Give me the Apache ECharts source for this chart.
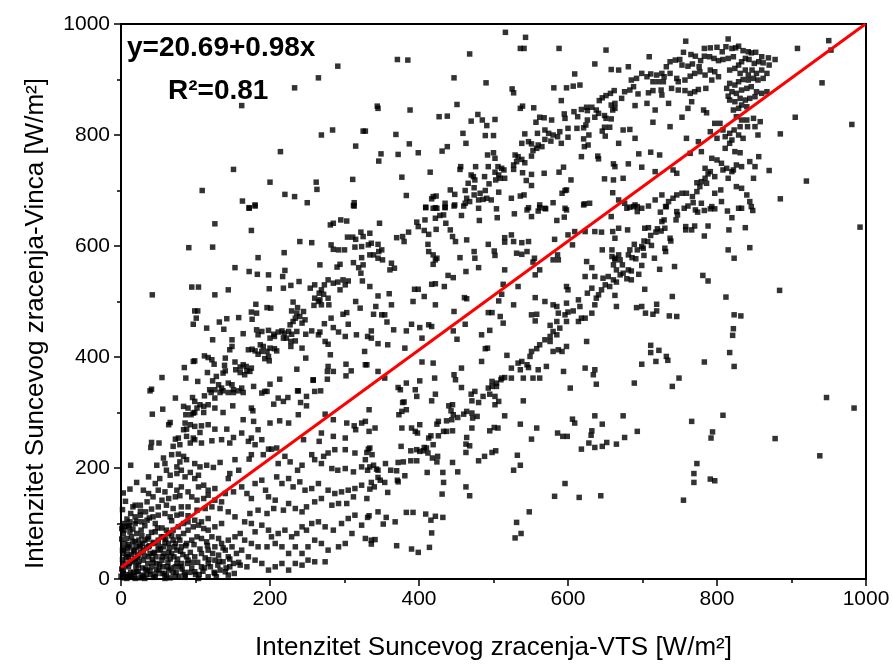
<!DOCTYPE html>
<html><head><meta charset="utf-8">
<script src="https://cdn.jsdelivr.net/npm/echarts@6/dist/echarts.min.js"></script>
<style>html,body{margin:0;padding:0;background:#fff}#c{width:893px;height:671px}</style>
</head><body><div id="c"></div>
<script>
// Scatter points [VTS, Vinca] in W/m2, read region by region from the reference
const regionTopLeft = [[291,924],[265,903],[233,885],[162,853],[284,809],[269,800],[325,807],[315,780],[214,770],[151,738],[200,715],[262,715],[263,702],[311,720],[109,700],[220,693],[233,689],[250,678],[163,681],[172,669],[180,674],[313,678],[312,673]];
const regionTopMid = [[516,985],[543,976],[536,956],[541,956],[588,956],[651,953],[371,936],[385,935],[468,946],[636,928],[658,918],[609,910],[447,903],[490,894],[525,883],[527,876],[581,885],[598,885],[607,888],[616,890],[662,880],[657,875],[651,871],[646,867],[642,862],[591,862],[344,852],[345,848],[388,845],[451,855],[536,848],[539,852],[554,849],[658,854],[660,845],[618,846],[625,850],[632,850],[638,845],[641,839],[636,832],[626,844],[608,842],[595,838],[596,830],[613,833],[649,835],[651,830],[658,829],[427,833],[438,834],[479,837],[470,825],[485,827],[491,817],[502,828],[562,832],[568,831],[557,823],[578,827],[328,807],[369,801],[459,803],[489,799],[500,799],[542,802],[559,803],[569,809],[574,803],[580,800],[586,797],[589,806],[600,812],[612,812],[621,813],[624,818],[626,827],[646,807],[649,814],[656,814],[650,798],[387,784],[463,785],[538,785],[547,788],[551,784],[560,782],[569,792],[565,779],[558,776],[553,772],[577,789],[591,785],[600,796],[621,793],[628,800],[622,779],[627,782],[349,766],[346,753],[372,765],[399,768],[431,771],[438,779],[492,764],[500,768],[502,758],[529,764],[533,761],[538,756],[531,752],[527,746],[542,750],[551,762],[618,761],[640,762],[641,757],[661,748],[377,724],[415,733],[456,743],[455,738],[476,743],[493,743],[506,743],[511,740],[514,737],[470,728],[473,725],[475,719],[466,713],[488,725],[494,712],[502,733],[503,719],[509,722],[515,722],[507,728],[527,738],[539,732],[551,729],[568,731],[544,718],[551,709],[588,733],[594,742],[604,719],[596,700],[592,695],[649,721],[661,719],[660,696],[383,691],[442,701],[448,693],[462,700],[464,686],[474,705],[474,692],[482,695],[489,700],[419,689],[423,690],[417,685],[409,670],[422,669],[435,677],[435,670],[448,674],[462,677],[468,680],[480,683],[486,684],[491,686],[497,683],[507,697],[524,686],[536,690],[541,692],[547,669],[562,674],[569,668],[580,678],[596,668],[598,701],[622,676],[629,677]];
const regionTopRight = [[815,973],[758,969],[908,956],[950,970],[953,953],[709,941],[755,949],[765,945],[771,942],[783,956],[791,957],[800,958],[807,950],[812,959],[820,956],[825,957],[829,960],[835,952],[842,950],[846,948],[852,949],[860,941],[869,939],[878,936],[870,926],[862,930],[856,932],[850,929],[843,936],[838,938],[833,932],[829,926],[822,941],[815,938],[808,936],[802,934],[796,938],[790,941],[783,942],[778,934],[776,923],[767,928],[761,924],[753,926],[750,936],[744,935],[737,932],[732,923],[726,911],[719,908],[711,910],[706,905],[699,911],[692,902],[685,899],[681,923],[668,917],[688,887],[683,881],[676,878],[672,866],[663,857],[714,896],[721,896],[728,896],[729,905],[737,911],[746,902],[748,896],[757,899],[764,906],[770,911],[777,914],[784,908],[791,917],[797,914],[802,905],[793,899],[785,884],[775,882],[770,878],[764,875],[757,880],[748,881],[739,884],[725,881],[714,880],[708,876],[694,874],[726,872],[817,917],[824,920],[831,911],[838,917],[842,908],[847,917],[853,911],[860,917],[867,911],[862,902],[855,899],[849,902],[842,899],[835,900],[829,896],[824,890],[817,893],[813,884],[820,878],[826,875],[833,881],[840,884],[846,887],[853,878],[860,875],[867,878],[851,869],[844,866],[838,863],[831,866],[824,860],[817,863],[815,870],[833,854],[840,851],[829,848],[822,845],[826,833],[833,827],[840,827],[849,830],[858,824],[851,815],[841,815],[831,815],[823,809],[817,803],[811,797],[820,791],[829,800],[835,794],[808,809],[804,821],[800,794],[811,776],[817,785],[824,770],[831,768],[793,758],[800,755],[806,749],[813,740],[822,737],[826,746],[833,743],[844,752],[851,743],[856,761],[905,832],[885,802],[981,819],[941,894],[920,717],[885,685],[855,800],[870,736],[849,722],[840,692],[833,704],[826,707],[815,722],[808,737],[820,734],[797,725],[791,734],[788,730],[784,722],[779,716],[786,713],[777,707],[773,698],[767,689],[759,695],[753,695],[746,692],[741,686],[735,680],[732,671],[726,692],[717,683],[708,672],[699,668],[690,674],[683,670],[676,677],[668,683],[773,714],[784,740],[797,695],[805,701],[806,680],[793,671],[779,677],[768,678],[846,671],[833,668],[844,680],[690,794],[674,809],[683,810],[668,785],[695,766],[711,769],[723,764],[681,748],[699,742],[674,722],[663,743],[717,734],[746,731],[741,737],[759,794],[737,815],[714,823],[753,832],[706,857],[690,853],[717,845],[735,857],[663,848],[761,848],[766,860],[782,845],[786,840],[797,821],[791,806],[775,788],[764,767],[779,770]];
const regionMidLeft = [[172,668],[180,672],[313,672],[126,640],[175,628],[91,597],[123,598],[42,512],[95,526],[104,526],[126,512],[144,521],[153,561],[172,554],[183,549],[198,548],[184,579],[219,588],[220,556],[217,545],[218,524],[228,529],[239,536],[199,523],[240,608],[256,606],[281,638],[285,641],[295,647],[303,645],[282,602],[285,594],[292,593],[300,593],[304,616],[311,616],[315,612],[314,598],[322,625],[325,617],[323,599],[267,566],[290,562],[294,567],[312,570],[323,579],[319,561],[325,566],[322,551],[324,537],[278,539],[285,533],[291,535],[298,539],[301,530],[294,521],[305,537],[254,524],[260,530],[269,521],[273,530],[266,515],[272,513],[278,506],[260,506],[265,500],[269,494],[279,494],[259,493],[267,503],[231,499],[237,489],[229,483],[236,479],[234,470],[240,473],[245,482],[247,467],[243,461],[231,464],[227,458],[315,500],[321,488],[298,477],[303,480],[305,459],[316,440],[301,437],[292,445],[285,453],[282,470],[273,460],[265,440],[256,447],[248,441],[267,445],[274,428],[278,423],[281,404],[278,383],[277,374],[285,374],[302,387],[309,375],[302,366],[277,360],[258,359],[248,398],[243,416],[236,378],[328,386],[327,410],[181,495],[196,489],[201,488],[175,481],[182,479],[176,468],[158,471],[142,469],[132,463],[138,450],[115,452],[99,483],[103,483],[101,470],[97,459],[123,431],[149,431],[146,413],[164,442],[182,449],[189,446],[184,440],[198,448],[205,441],[211,445],[216,447],[219,443],[225,446],[229,441],[236,446],[222,434],[228,428],[228,419],[234,429],[200,434],[206,437],[218,434],[171,413],[176,414],[187,422],[191,419],[189,410],[184,405],[196,410],[200,416],[206,415],[209,411],[198,401],[193,397],[199,393],[180,411],[149,419],[140,398],[153,391],[160,382],[164,386],[168,383],[169,375],[173,374],[175,380],[166,368],[160,372],[154,377],[139,385],[140,375],[137,371],[112,402],[117,399],[122,395],[125,387],[99,393],[97,392],[85,381],[87,362],[55,363],[41,342],[103,356],[116,372],[123,357],[128,365],[131,350],[119,341],[126,341],[135,344],[144,353],[149,350],[151,341],[162,344],[178,347],[196,338],[200,351],[213,360],[237,339],[258,358],[268,339]];
const regionMidCenter = [[409,669],[419,668],[424,668],[435,669],[447,672],[460,672],[480,668],[504,667],[528,658],[545,665],[551,653],[560,663],[570,667],[598,665],[595,652],[585,646],[562,669],[621,674],[347,641],[397,643],[399,635],[408,647],[407,628],[413,621],[423,630],[422,650],[428,655],[433,656],[436,641],[442,629],[445,617],[449,608],[464,611],[457,655],[481,646],[505,651],[515,615],[524,620],[527,608],[538,606],[547,608],[545,590],[538,585],[531,587],[555,578],[556,548],[553,571],[562,557],[586,584],[580,575],[587,575],[582,612],[600,620],[606,602],[609,626],[623,626],[636,626],[645,625],[658,653],[660,626],[646,593],[659,581],[661,566],[334,623],[332,602],[336,605],[345,603],[334,584],[339,584],[346,590],[350,593],[345,578],[351,575],[363,569],[361,557],[367,560],[370,615],[378,617],[386,625],[380,608],[412,603],[413,590],[419,584],[422,575],[419,567],[424,578],[455,579],[474,590],[475,578],[480,561],[493,603],[501,591],[502,583],[515,607],[463,554],[439,547],[446,543],[434,527],[417,531],[422,532],[394,522],[399,522],[407,509],[334,527],[345,510],[360,514],[342,491],[363,494],[392,500],[422,494],[461,507],[464,505],[515,557],[513,531],[511,513],[533,527],[507,501],[527,494],[556,507],[493,480],[498,480],[509,473],[513,461],[447,482],[462,459],[446,447],[451,432],[484,440],[495,448],[339,477],[350,476],[354,476],[357,463],[390,459],[401,453],[413,458],[383,447],[366,449],[336,447],[331,437],[336,434],[345,424],[358,422],[381,416],[404,434],[417,455],[569,500],[580,494],[585,491],[587,479],[596,476],[600,481],[607,483],[598,497],[598,527],[600,521],[614,503],[616,491],[618,470],[623,470],[632,479],[636,494],[638,506],[626,515],[632,524],[641,512],[645,521],[650,530],[656,527],[661,539],[654,545],[647,542],[623,545],[632,561],[625,572],[636,545],[659,593],[663,578],[551,476],[558,477],[556,465],[576,457],[580,446],[576,437],[569,431],[576,428],[562,422],[558,415],[551,410],[549,401],[538,392],[533,389],[545,386],[536,377],[524,380],[515,363],[510,359],[504,353],[498,356],[493,344],[498,347],[504,347],[511,362],[524,362],[540,362],[553,362],[562,362],[547,381],[560,377],[571,383],[594,374],[598,464],[585,464],[589,452],[585,440],[598,419],[587,413],[580,410],[592,410],[614,464],[625,428],[623,380],[636,377],[634,368],[638,351],[603,344],[330,386],[345,374],[354,362],[372,345],[383,353],[401,357],[421,362],[447,368],[449,359],[457,345],[475,338],[404,391],[419,389],[375,341],[395,341],[489,415],[492,416],[518,403],[484,392],[457,380]];
const regionMidRight = [[679,668],[688,671],[693,662],[693,671],[724,661],[731,671],[746,662],[747,656],[745,647],[756,668],[761,672],[771,665],[774,661],[783,664],[791,667],[797,667],[814,663],[820,651],[829,668],[848,664],[992,634],[668,632],[680,629],[703,632],[708,633],[726,644],[729,647],[720,631],[725,627],[730,632],[718,625],[711,619],[758,635],[758,629],[766,629],[770,636],[788,636],[783,618],[816,629],[838,633],[663,614],[689,603],[702,609],[707,608],[712,601],[699,599],[693,593],[683,593],[681,584],[668,584],[663,575],[670,575],[686,579],[691,577],[701,596],[702,583],[716,578],[730,596],[731,590],[738,609],[737,614],[815,593],[823,578],[844,597],[673,566],[665,557],[670,548],[674,551],[681,557],[685,555],[679,541],[685,539],[695,549],[699,565],[665,535],[723,558],[743,563],[781,547],[788,537],[703,522],[740,509],[663,511],[665,491],[692,489],[699,491],[704,479],[714,477],[719,495],[719,483],[736,474],[746,473],[812,508],[823,476],[832,474],[822,451],[821,439],[817,408],[823,383],[783,391],[884,520],[711,421],[711,408],[722,412],[732,401],[734,394],[718,392],[699,387],[689,353],[740,347],[749,362]];
const regionLowLeft = [[39,339],[73,326],[96,327],[99,320],[112,330],[121,336],[126,326],[133,336],[137,339],[144,336],[151,336],[158,339],[164,336],[189,335],[193,338],[211,326],[224,327],[238,339],[249,329],[249,312],[241,318],[260,338],[205,315],[218,320],[175,308],[177,303],[150,312],[137,300],[126,308],[117,314],[111,311],[106,314],[102,308],[97,299],[90,308],[84,311],[87,296],[94,296],[99,300],[111,300],[56,306],[42,297],[66,282],[64,278],[86,281],[93,278],[99,275],[108,276],[117,278],[84,269],[88,270],[106,264],[126,270],[142,270],[162,263],[164,287],[178,284],[184,269],[200,281],[213,285],[225,281],[238,296],[269,263],[274,297],[285,287],[303,281],[313,276],[323,281],[315,269],[301,254],[285,257],[266,248],[245,251],[41,246],[51,245],[40,237],[73,252],[77,254],[88,257],[97,254],[70,239],[79,242],[93,245],[99,251],[108,245],[122,249],[135,251],[146,245],[151,255],[171,248],[175,254],[180,242],[189,251],[198,234],[202,234],[209,236],[191,224],[175,224],[172,216],[13,205],[12,162],[21,174],[37,184],[46,172],[52,181],[59,208],[48,205],[57,218],[68,224],[77,225],[84,221],[79,211],[88,215],[75,202],[61,196],[66,187],[75,190],[81,196],[86,184],[93,192],[99,181],[104,187],[106,202],[99,208],[115,205],[124,201],[133,210],[146,190],[144,181],[158,196],[153,215],[104,166],[111,169],[117,160],[126,163],[81,166],[75,160],[66,169],[59,157],[50,160],[43,148],[35,139],[26,133],[19,133],[30,160],[37,154],[55,142],[64,145],[73,148],[79,150],[90,157],[95,148],[102,142],[111,145],[117,151],[126,142],[135,139],[140,154],[151,157],[162,166],[169,154],[175,145],[180,172],[189,178],[194,160],[198,148],[184,124],[173,118],[166,103],[153,112],[144,121],[133,127],[122,130],[113,127],[102,124],[90,130],[81,130],[70,127],[61,133],[50,130],[41,126],[33,121],[26,115],[19,112],[12,103],[5,100],[1,91],[10,94],[19,100],[28,103],[35,106],[43,112],[50,115],[59,118],[66,112],[75,115],[81,117],[90,114],[99,106],[108,103],[117,109],[211,208],[220,221],[227,211],[237,196],[243,205],[256,224],[260,215],[269,208],[272,221],[278,227],[283,199],[291,196],[301,199],[312,193],[323,202],[314,227],[301,233],[287,233],[209,184],[216,172],[225,181],[231,166],[240,175],[247,160],[256,163],[265,172],[278,160],[287,154],[296,157],[305,160],[314,163],[323,169],[312,148],[303,136],[292,136],[283,133],[269,145],[260,139],[249,130],[243,121],[234,127],[225,136],[218,124],[207,142],[205,127],[196,118],[175,100],[180,85],[189,97],[198,88],[202,76],[211,82],[220,88],[229,76],[236,82],[243,94],[249,88],[256,100],[265,103],[274,94],[285,88],[296,100],[305,109],[314,115],[323,97],[310,82],[301,64],[292,58],[278,52],[269,64],[260,70],[251,58],[243,46],[234,58],[225,46],[216,58],[207,64],[196,58],[184,58],[175,64],[166,70],[162,52],[171,40],[180,34],[189,28],[198,16],[207,22],[216,28],[225,16],[234,28],[243,25],[251,34],[260,31],[274,31],[169,22],[160,25],[151,28],[144,40],[140,13],[144,7],[146,22],[137,31]];
const regionCorner = [[3,82],[8,73],[14,76],[21,82],[5,64],[12,58],[19,67],[26,61],[32,70],[37,76],[3,46],[10,40],[17,49],[23,43],[30,52],[37,58],[43,64],[50,70],[57,76],[64,82],[70,88],[77,94],[84,100],[90,103],[3,28],[10,22],[17,31],[23,25],[30,34],[37,40],[43,46],[50,52],[57,58],[64,64],[70,70],[77,76],[84,82],[90,88],[97,94],[104,97],[111,91],[117,88],[126,94],[135,100],[3,10],[12,7],[21,13],[28,7],[35,16],[41,22],[48,28],[55,34],[61,40],[68,46],[75,52],[81,58],[88,64],[95,70],[102,76],[108,73],[115,67],[122,76],[131,73],[8,1],[19,1],[32,1],[46,4],[55,10],[64,16],[73,22],[81,28],[90,34],[99,40],[108,46],[117,52],[126,58],[135,64],[144,70],[153,76],[160,82],[59,1],[73,4],[86,7],[99,13],[108,22],[117,28],[126,34],[131,43],[140,52],[149,58],[155,46],[104,1],[117,4],[126,10],[133,16],[0,5],[3,15],[6,25],[2,35],[8,45],[4,55],[10,62],[1,72],[12,85],[5,95],[14,3],[17,12],[20,22],[15,33],[22,40],[18,52],[25,58],[24,70],[28,78],[8,108],[13,118],[2,125],[30,5],[33,18],[36,28],[40,8],[42,35],[45,48],[48,18],[52,26],[55,40],[50,60],[58,10],[62,22],[66,36],[70,12],[75,28],[78,5],[82,18],[88,40],[92,12],[96,30],[105,8],[112,20],[118,35],[125,12],[130,25],[6,140],[3,155],[16,130],[26,122],[38,110],[46,100],[55,92],[68,105],[10,4],[26,2],[44,3],[66,2],[86,3],[4,2],[38,60],[46,85],[60,72],[72,58],[80,50],[64,48]];
const regionCornerDense = [[1,18],[2,52],[4,88],[6,8],[7,38],[9,55],[11,28],[11,96],[13,12],[14,44],[16,68],[16,90],[18,6],[19,36],[20,58],[21,104],[23,14],[24,32],[26,48],[27,88],[29,20],[29,64],[31,42],[32,96],[34,8],[34,56],[36,72],[39,14],[39,46],[41,84],[43,30],[44,66],[47,10],[47,40],[49,92],[51,16],[53,54],[54,76],[56,22],[57,46],[59,66],[61,6],[61,88],[63,30],[65,56],[67,20],[68,78],[71,40],[73,64],[74,12],[76,36],[79,70],[80,22],[83,44],[85,12],[87,60],[89,28],[93,48],[95,20],[98,62],[100,8],[103,30],[106,54],[110,14],[113,38],[116,60],[120,22],[123,46],[128,4],[132,32],[137,56],[141,20],[146,36],[152,10],[158,30]];
const regionLowCenter = [[333,305],[328,284],[333,266],[341,272],[334,236],[337,224],[332,234],[330,228],[328,215],[334,202],[331,196],[339,205],[343,198],[345,196],[336,174],[348,178],[354,174],[345,183],[340,166],[334,162],[330,145],[358,156],[355,208],[362,196],[370,195],[372,210],[379,211],[376,239],[372,175],[371,178],[381,186],[377,272],[390,272],[395,266],[398,263],[401,278],[389,231],[397,233],[401,230],[407,237],[406,231],[410,236],[412,227],[418,218],[424,211],[425,221],[419,242],[413,254],[416,258],[397,213],[389,213],[426,258],[433,266],[437,266],[445,267],[424,279],[426,284],[437,285],[444,287],[446,296],[443,303],[452,291],[445,314],[440,312],[460,297],[464,302],[471,299],[472,290],[478,293],[471,272],[464,255],[463,243],[468,240],[463,228],[480,213],[488,221],[498,228],[503,231],[495,267],[501,273],[506,272],[515,294],[502,314],[507,320],[502,329],[495,333],[486,329],[480,318],[471,321],[470,333],[422,333],[397,329],[417,321],[378,318],[380,319],[383,305],[373,296],[377,302],[540,321],[536,279],[551,252],[558,272],[586,263],[593,257],[599,257],[606,288],[609,281],[636,294],[646,279],[632,267],[631,259],[628,245],[618,234],[636,237],[646,239],[652,246],[532,223],[536,205],[527,196],[596,172],[582,149],[615,147],[644,150],[548,121],[531,102],[537,82],[529,74],[452,193],[432,192],[433,174],[431,153],[463,166],[468,150],[445,210],[411,192],[409,117],[416,106],[422,113],[432,111],[417,83],[414,57],[399,48],[390,54],[383,120],[392,120],[368,103],[356,111],[352,99],[345,121],[333,114],[331,111],[328,73],[336,70],[341,71],[336,63],[370,60]];
const regionLowRight = [[674,294],[676,255],[665,243],[693,266],[766,284],[808,295],[794,265],[792,254],[773,208],[769,190],[769,174],[791,180],[797,177],[755,142],[878,253],[938,222],[947,327],[984,308]];

// Linear fit shown on the chart
const fitIntercept = 20.69;
const fitSlope = 0.98;
const fitR2 = '0.81';

const axisMin = 0, axisMax = 1000, axisStep = 200;

const allPoints = [].concat(regionTopLeft, regionTopMid, regionTopRight, regionMidLeft,
  regionMidCenter, regionMidRight, regionLowLeft, regionCorner, regionCornerDense, regionLowCenter, regionLowRight);
const fitLine = [[axisMin, fitIntercept + fitSlope * axisMin], [(axisMax - fitIntercept) / fitSlope, axisMax]];

const FONT = '"Liberation Sans", Arial, Helvetica, sans-serif';
const chart = echarts.init(document.getElementById('c'), null, {renderer: 'canvas'});
const axisCommon = {
  type: 'value', min: axisMin, max: axisMax, interval: axisStep,
  axisLine: {show: true, onZero: false, lineStyle: {color: '#000', width: 2}},
  axisTick: {show: true, inside: false, length: 7, lineStyle: {color: '#000', width: 1.5}},
  minorTick: {show: true, splitNumber: 2, length: 4, lineStyle: {color: '#000', width: 1.5}},
  splitLine: {show: false},
  axisLabel: {color: '#000', fontSize: 21, fontFamily: FONT, formatter: function (v) { return String(v); }},
  nameLocation: 'middle',
  nameTextStyle: {color: '#000', fontSize: 26, fontFamily: FONT}
};
chart.setOption({
  animation: false,
  backgroundColor: '#fff',
  grid: {left: 121, right: 27, top: 24, bottom: 92, show: true, borderColor: '#000', borderWidth: 2, backgroundColor: 'transparent'},
  xAxis: Object.assign({}, axisCommon, {
    name: 'Intenzitet Suncevog zracenja-VTS [W/m\u00B2]', nameGap: 56,
    axisLabel: Object.assign({}, axisCommon.axisLabel, {margin: 10})
  }),
  yAxis: Object.assign({}, axisCommon, {
    name: 'Intenzitet Suncevog zracenja-Vinca [W/m\u00B2]', nameGap: 72, nameRotate: 90,
    nameTextStyle: Object.assign({}, axisCommon.nameTextStyle, {padding: [0, 44, 0, 0]}),
    axisLabel: Object.assign({}, axisCommon.axisLabel, {margin: 11})
  }),
  graphic: [
    {type: 'text', left: 127, top: 34, z: 100,
      style: {text: 'y=' + fitIntercept.toFixed(2) + '+' + fitSlope.toFixed(2) + 'x', font: 'bold 28px ' + FONT, fill: '#000'}},
    {type: 'text', left: 168, top: 77, z: 100,
      style: {text: 'R\u00B2=' + fitR2, font: 'bold 28px ' + FONT, fill: '#000'}}
  ],
  series: [
    {type: 'scatter', data: allPoints, symbol: 'rect', symbolSize: 5.5, itemStyle: {color: '#000'}, z: 2},
    {type: 'line', data: fitLine, symbol: 'none', lineStyle: {color: '#f00', width: 3}, z: 5, silent: true}
  ]
});
</script>
</body></html>
